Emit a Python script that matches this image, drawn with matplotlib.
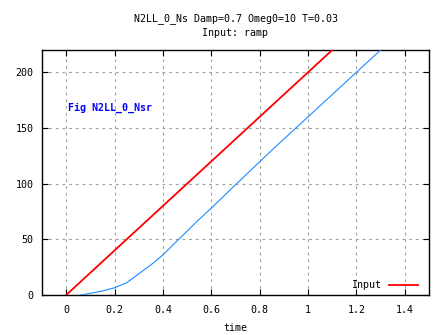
import matplotlib
matplotlib.use("Agg")
from matplotlib import pyplot as plt

# ramp input and system output
input_t = [0.0, 1.5]
input_y = [0.0, 300.0]

out_t = [0.06, 0.10, 0.15, 0.20, 0.25, 0.30, 0.35, 0.40, 0.47, 0.55,
         0.60, 0.70, 0.85, 1.00, 1.20, 1.30]
out_y = [0.0, 1.5, 3.6, 6.5, 11.0, 19.0, 27.0, 36.0, 51.0, 68.0,
         78.0, 99.0, 130.0, 160.0, 200.0, 220.0]

x_ticks = [0, 0.2, 0.4, 0.6, 0.8, 1, 1.2, 1.4]
x_labels = ["0", "0.2", "0.4", "0.6", "0.8", "1", "1.2", "1.4"]
y_ticks = [0, 50, 100, 150, 200]

plt.rcParams['font.family'] = ['DejaVu Sans Mono']
fs = 7.2

fig = plt.figure(figsize=(4.47, 3.35), dpi=100)
ax = fig.add_axes([42 / 447, 40 / 335, 387 / 447, 245 / 335])

ax.plot(input_t, input_y, color="#ff0000", lw=1.3, label="Input", zorder=3)
ax.plot(out_t, out_y, color="#1a8cff", lw=0.8, zorder=3)

ax.set_xlim(-0.1, 1.5)
ax.set_ylim(0, 220)
ax.set_xticks(x_ticks)
ax.set_xticklabels(x_labels)
ax.set_yticks(y_ticks)
ax.tick_params(direction="in", length=4, width=0.8, labelsize=fs,
               top=True, right=True, colors="black")
ax.tick_params(axis="x", pad=7)
ax.tick_params(axis="y", pad=6)
for s in ax.spines.values():
    s.set_linewidth(1.0)

ax.grid(True, color="#a0a0a0", lw=0.8, linestyle=(0, (2.5, 3.5)))
ax.set_axisbelow(True)

ax.set_title("N2LL_0_Ns Damp=0.7 Omeg0=10 T=0.03\nInput: ramp",
             fontsize=fs, pad=10, linespacing=1.5)
ax.set_xlabel("time", fontsize=fs, labelpad=6)

ax.text(0.008, 168, "Fig N2LL_0_Nsr", color="#0000ff", fontsize=fs,
        fontweight="bold", va="center", ha="left")

ax.legend(loc="center right", bbox_to_anchor=(0.972, 0.04), frameon=False,
          markerfirst=False, fontsize=fs, handlelength=2.9, handletextpad=0.8,
          borderpad=0, borderaxespad=0)

fig.savefig("out.png", dpi=100)
